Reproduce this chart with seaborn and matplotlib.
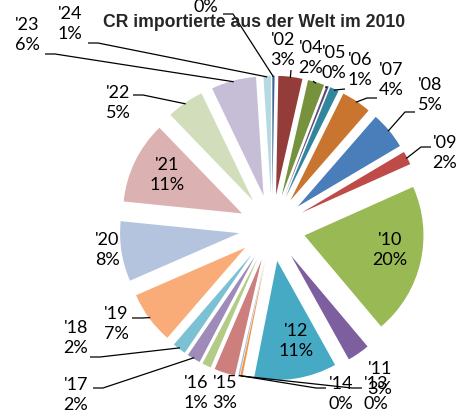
import numpy as np
import pandas as pd
import seaborn as sns
import matplotlib.pyplot as plt

# data (share of imports per country code, %)
years = ["'01", "'02", "'04", "'05", "'06", "'07", "'08", "'09", "'10", "'11", "'12", "'13",
         "'14", "'15", "'16", "'17", "'18", "'19", "'20", "'21", "'22", "'23", "'24"]
shares = [0.3, 3.2, 2.2, 0.3, 1.2, 4.0, 5.0, 1.8, 20.2, 3.0, 11.0, 0.3,
          0.2, 2.8, 1.2, 1.8, 1.8, 7.0, 8.0, 11.0, 5.0, 6.0, 1.0]
colors = ["#3C6494", "#943C3A", "#76923C", "#60497A", "#31859C", "#C9752F",
          "#4A7EBB", "#BE4B48", "#98B954", "#7D5FA0", "#46AAC5", "#F69240",
          "#A7BCDB", "#CD7F7E", "#B3CB86", "#9E8BBA", "#7CC0D4", "#F9AB78",
          "#B4C3DE", "#DBB2B1", "#D1DDBB", "#C6BDD6", "#B4DAE4"]
title = "CR importierte aus der Welt im 2010"

# label layout in pixels (text centre, start of leader line)
label_xy = [(206, -3), (283, 50), (311, 58), (334, 63), (360, 70), (391, 80),
            (430, 95), (445, 153), (390, 250), (380, 379), (296, 341), (376, 394),
            (341, 394), (225, 393), (196, 393), (76, 395), (76, 338), (116, 324),
            (107, 250), (167, 175), (118, 103), (27, 35), (70, 24)]
leader_xy = [(223, 14), (291, 70), (313, 81), (325, 87), (345, 89), (377, 98),
             (415, 112), (431, 147), None, None, None, (362, 388),
             (326, 388), None, None, (93, 388), (90, 357), (132, 318),
             None, None, (133, 95), (45, 54), (88, 43)]

sns.set_theme(style="white")
plt.rcParams['font.family'] = ['Lato', 'DejaVu Sans']

W, H = 461, 419
cx, cy, s = 272, 228, 119

fig = plt.figure(figsize=(W / 100, H / 100), dpi=100)
ax = fig.add_axes([0, 0, 1, 1])

wedges, _ = ax.pie(shares, colors=colors, explode=[0.28] * len(shares),
                   startangle=90, counterclock=False, radius=1,
                   wedgeprops=dict(linewidth=0))
ax.set_aspect('auto')
ax.set_xlim(-cx / s, (W - cx) / s)
ax.set_ylim(-(H - cy) / s, cy / s)
ax.axis('off')


def to_data(x, y):
    return (x - cx) / s, (cy - y) / s


for w, yr, v, pos, lead in zip(wedges, years, shares, label_xy, leader_xy):
    ax.text(*to_data(*pos), f"{yr}\n{v:.0f}%", ha='center', va='center',
            fontsize=13, linespacing=1.25, color='black')
    if lead is None:
        continue
    mid = np.deg2rad((w.theta1 + w.theta2) / 2)
    ex = w.center[0] + w.r * 0.99 * np.cos(mid)
    ey = w.center[1] + w.r * 0.99 * np.sin(mid)
    sx, sy = to_data(*lead)
    pts = [(sx, sy)]
    if abs(ex - sx) > 15 / s:
        step = 10 / s if ex > sx else -10 / s
        pts.append((sx + step, sy))
    pts.append((ex, ey))
    xs, ys = zip(*pts)
    ax.plot(xs, ys, color='black', lw=0.9, solid_capstyle='butt')

fig.text(254 / W, 1 - 27 / H, title, ha='center', va='baseline', fontsize=12.7,
         fontweight='bold', family=['Liberation Sans', 'DejaVu Sans'])

fig.savefig('out.png', dpi=100)
